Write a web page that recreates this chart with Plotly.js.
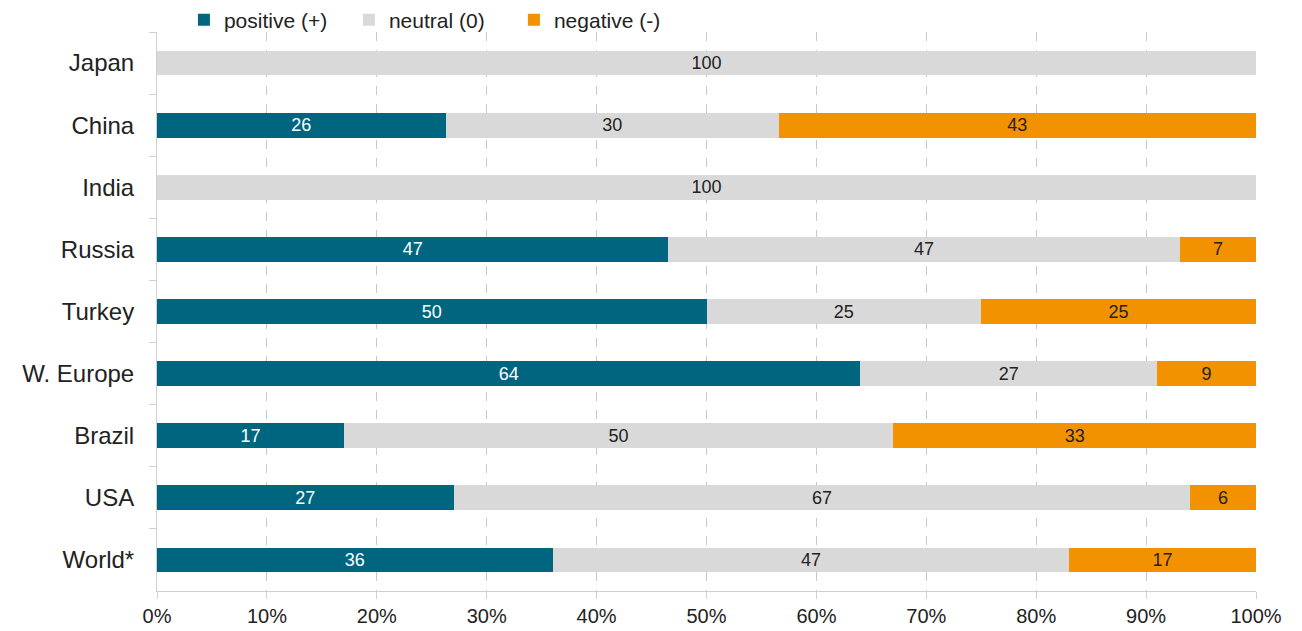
<!DOCTYPE html>
<html>
<head>
<meta charset="utf-8">
<script src="https://cdn.plot.ly/plotly-3.0.1.min.js"></script>
<style>html,body{margin:0;padding:0;background:#fff;}#chart{width:1302px;height:631px;}</style>
</head>
<body>
<div id="chart"></div>
<script>
const categories = ["Japan", "China", "India", "Russia", "Turkey", "W. Europe", "Brazil", "USA", "World*"];
const positive = [0, 26, 0, 47, 50, 64, 17, 27, 36];
const neutral  = [100, 30, 100, 47, 25, 27, 50, 67, 47];
const negative = [0, 43, 0, 7, 25, 9, 33, 6, 17];
const seriesNames = ["positive (+)", "neutral (0)", "negative (-)"];
const xTickVals = [0, 10, 20, 30, 40, 50, 60, 70, 80, 90, 100];

const colors = ["#00657f", "#d9d9d9", "#f39200"];
const textColors = ["#ffffff", "#222222", "#222222"];
const FONT = "Liberation Sans, Arial, sans-serif";

function lbl(arr){ return arr.map(v => v === 0 ? "" : String(v)); }

const traces = [positive, neutral, negative].map((vals, i) => ({
  type: "bar",
  orientation: "h",
  name: seriesNames[i],
  y: categories,
  x: vals,
  text: lbl(vals),
  textposition: "inside",
  insidetextanchor: "middle",
  textangle: 0,
  constraintext: "none",
  textfont: {family: FONT, size: 18, color: textColors[i]},
  marker: {color: colors[i], line: {width: 0}},
  hoverinfo: "skip"
}));

const layout = {
  width: 1302, height: 631,
  margin: {l: 157, r: 46, t: 32, b: 40, autoexpand: false},
  barmode: "stack",
  barnorm: "percent",
  bargap: 0.6,
  paper_bgcolor: "#fff",
  plot_bgcolor: "#fff",
  font: {family: FONT, size: 20, color: "#222"},
  showlegend: true,
  legend: {
    orientation: "h",
    x: 0.0245, xanchor: "left",
    y: 1.0215, yanchor: "middle",
    font: {family: FONT, size: 21, color: "#222"},
    traceorder: "normal",
    itemwidth: 30,
    entrywidth: 120,
    entrywidthmode: "pixels",
    tracegroupgap: 0,
    bgcolor: "rgba(0,0,0,0)"
  },
  xaxis: {
    range: [0, 100],
    tickvals: xTickVals,
    ticktext: xTickVals.map(v => v + "%"),
    showgrid: true,
    gridcolor: "#c8c8c8",
    griddash: "dash",
    gridwidth: 1,
    zeroline: false,
    showline: true,
    linecolor: "#d0d0d0",
    ticks: "outside",
    ticklen: 7,
    tickcolor: "#d0d0d0",
    tickfont: {family: FONT, size: 20, color: "#222"},
    fixedrange: true
  },
  yaxis: {
    categoryorder: "array",
    categoryarray: categories,
    autorange: "reversed",
    showgrid: false,
    zeroline: false,
    showline: true,
    linecolor: "#d0d0d0",
    ticks: "outside",
    tickson: "boundaries",
    ticklen: 7,
    tickcolor: "#d0d0d0",
    ticklabelstandoff: 17,
    tickfont: {family: FONT, size: 24, color: "#222"},
    fixedrange: true
  }
};

Plotly.newPlot("chart", traces, layout, {displayModeBar: false, staticPlot: true});
</script>
</body>
</html>
